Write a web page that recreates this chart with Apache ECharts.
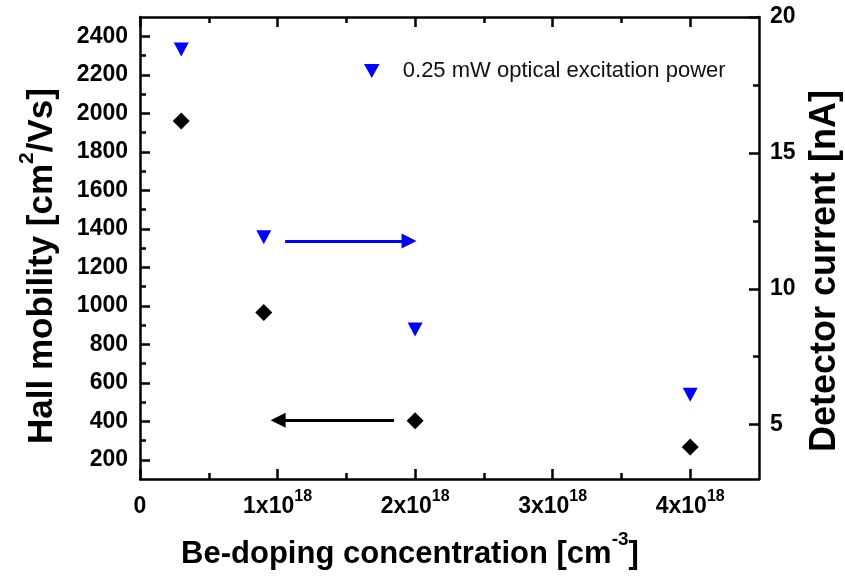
<!DOCTYPE html>
<html>
<head>
<meta charset="utf-8">
<script src="https://cdn.jsdelivr.net/npm/echarts@6/dist/echarts.min.js"></script>
<style>
  html, body { margin: 0; padding: 0; background: #fff; }
  #chart { width: 845px; height: 576px; }
</style>
</head>
<body>
<div id="chart"></div>
<script>
// Be-doping concentration, in units of 1e18 cm^-3
const concentration = [0.3, 0.9, 2.0, 4.0]
// Hall mobility [cm^2/Vs] (left axis, black diamonds)
const hallMobility = [1960, 965, 403, 266]
// Detector current [nA] at 0.25 mW (right axis, blue triangles)
const detectorCurrent = [18.8, 11.9, 8.5, 6.1]

// tick values
const xMajor = [0, 1, 2, 3, 4]
const xMinor = [0.5, 1.5, 2.5, 3.5]
const yLeftMajor = [200, 400, 600, 800, 1000, 1200, 1400, 1600, 1800, 2000, 2200, 2400]
const yLeftMinor = [300, 500, 700, 900, 1100, 1300, 1500, 1700, 1900, 2100, 2300]
const yRightMajor = [5, 10, 15, 20]
const yRightMinor = [7.5, 12.5, 17.5]

// arrows pointing to the axis each series belongs to: [x1, x2, y]
const blueArrow = [1.055, 1.956, 11.76]
const blackArrow = [1.847, 1.004, 405]

const legendName = '0.25 mW optical excitation power'
const FONT = '"Liberation Sans", Arial, sans-serif'

const chart = echarts.init(document.getElementById('chart'))

const axisLineStyle = {color: '#000', width: 2.5}
const labelStyle = {color: '#000', fontSize: 23, fontWeight: 'bold', fontFamily: FONT}
const tickLine = {width: 2.5, color: '#000'}

// helper for tick-only overlay axes (minor ticks)
const tickAxis = (extra) => Object.assign({
  type: 'value',
  axisLine: {show: false, onZero: false},
  axisLabel: {show: false},
  splitLine: {show: false}
}, extra)

const option = {
  animation: false,
  backgroundColor: '#fff',
  grid: {left: 140, right: 86, top: 17, bottom: 97},
  legend: {
    data: [legendName],
    left: 359,
    top: 55,
    itemWidth: 16,
    itemHeight: 14,
    icon: 'path://M0,0L10,0L5,9Z',
    textStyle: {fontSize: 22, color: '#111', fontFamily: FONT, padding: [0, 0, 0, 18]}
  },
  xAxis: [
    {
      type: 'value', position: 'bottom', min: 0, max: 4.5,
      axisLine: {lineStyle: axisLineStyle, onZero: false},
      axisTick: {inside: true, length: 10, customValues: xMajor, lineStyle: tickLine},
      axisLabel: {
        customValues: xMajor,
        margin: 10,
        formatter: (v) => v === 0 ? '{n|0}' : `{n|${v}x10}{s|18}`,
        rich: {
          n: {fontSize: 23, fontWeight: 'bold', fontFamily: FONT, color: '#000', padding: [6, 0, 0, 0]},
          s: {fontSize: 16, fontWeight: 'bold', fontFamily: FONT, color: '#000', verticalAlign: 'top'}
        }
      },
      splitLine: {show: false}
    },
    tickAxis({position: 'bottom', min: 0, max: 4.5,
      axisTick: {inside: true, length: 6, customValues: xMinor, lineStyle: tickLine}}),
    {
      type: 'value', position: 'top', min: 0, max: 4.5,
      axisLine: {lineStyle: axisLineStyle, onZero: false},
      axisTick: {inside: true, length: 10, customValues: xMajor, lineStyle: tickLine},
      axisLabel: {show: false},
      splitLine: {show: false}
    },
    tickAxis({position: 'top', min: 0, max: 4.5,
      axisTick: {inside: true, length: 6, customValues: xMinor, lineStyle: tickLine}})
  ],
  yAxis: [
    {
      type: 'value', position: 'left', min: 100, max: 2500,
      axisLine: {show: true, onZero: false, lineStyle: axisLineStyle},
      axisTick: {show: true, inside: true, length: 10, customValues: yLeftMajor, lineStyle: tickLine},
      axisLabel: Object.assign({customValues: yLeftMajor, margin: 12, formatter: (v) => String(v)}, labelStyle),
      splitLine: {show: false}
    },
    {
      type: 'value', position: 'right', min: 3, max: 20,
      axisLine: {show: true, onZero: false, lineStyle: axisLineStyle},
      axisTick: {show: true, inside: true, length: 10, customValues: yRightMajor, lineStyle: tickLine},
      axisLabel: Object.assign({customValues: yRightMajor, margin: 11, formatter: (v) => String(v)}, labelStyle),
      splitLine: {show: false}
    },
    tickAxis({position: 'left', min: 100, max: 2500,
      axisTick: {show: true, inside: true, length: 6, customValues: yLeftMinor, lineStyle: tickLine}}),
    tickAxis({position: 'right', min: 3, max: 20,
      axisTick: {show: true, inside: true, length: 6, customValues: yRightMinor, lineStyle: tickLine}})
  ],
  series: [
    {
      name: 'Hall mobility',
      type: 'scatter',
      xAxisIndex: 0,
      yAxisIndex: 0,
      symbol: 'diamond',
      symbolSize: 17,
      itemStyle: {color: '#000', opacity: 1},
      data: concentration.map((c, i) => [c, hallMobility[i]]),
      markLine: {
        silent: true,
        symbol: ['none', 'triangle'],
        symbolSize: 15,
        label: {show: false},
        lineStyle: {color: '#000', width: 3, type: 'solid'},
        data: [[{coord: [blackArrow[0], blackArrow[2]]}, {coord: [blackArrow[1], blackArrow[2]]}]]
      }
    },
    {
      name: legendName,
      type: 'scatter',
      xAxisIndex: 0,
      yAxisIndex: 1,
      symbol: 'path://M0,0L10,0L5,9Z',
      symbolSize: [15, 14],
      itemStyle: {color: '#0000ff', opacity: 1},
      data: concentration.map((c, i) => [c, detectorCurrent[i]]),
      markLine: {
        silent: true,
        symbol: ['none', 'triangle'],
        symbolSize: 15,
        label: {show: false},
        lineStyle: {color: '#0000ff', width: 3, type: 'solid'},
        data: [[{coord: [blueArrow[0], blueArrow[2]]}, {coord: [blueArrow[1], blueArrow[2]]}]]
      }
    }
  ],
  graphic: [
    {
      type: 'text', x: 38, y: 266, rotation: Math.PI / 2,
      style: {
        text: '{m|Hall mobility [cm}{sup|2}{m|/Vs]}',
        fontSize: 35, fontWeight: 'bold', fontFamily: FONT, fill: '#000',
        align: 'center', verticalAlign: 'middle',
        rich: {
          m: {fontSize: 35, fontWeight: 'bold', fontFamily: FONT, padding: [8, 0, 0, 0]},
          sup: {fontSize: 21, fontWeight: 'bold', fontFamily: FONT, verticalAlign: 'top'}
        }
      }
    },
    {
      type: 'text', x: 825, y: 271, rotation: Math.PI / 2,
      style: {
        text: 'Detector current [nA]',
        fontSize: 36, fontWeight: 'bold', fontFamily: FONT, fill: '#000',
        align: 'center', verticalAlign: 'middle'
      }
    },
    {
      type: 'text', x: 410, y: 550,
      style: {
        text: '{m|Be-doping concentration [cm}{sup|-3}{m|]}',
        fontSize: 31, fontWeight: 'bold', fontFamily: FONT, fill: '#000',
        align: 'center', verticalAlign: 'middle',
        rich: {
          m: {fontSize: 31, fontWeight: 'bold', fontFamily: FONT, padding: [8, 0, 0, 0]},
          sup: {fontSize: 19, fontWeight: 'bold', fontFamily: FONT, verticalAlign: 'top'}
        }
      }
    }
  ]
}

chart.setOption(option)
</script>
</body>
</html>
